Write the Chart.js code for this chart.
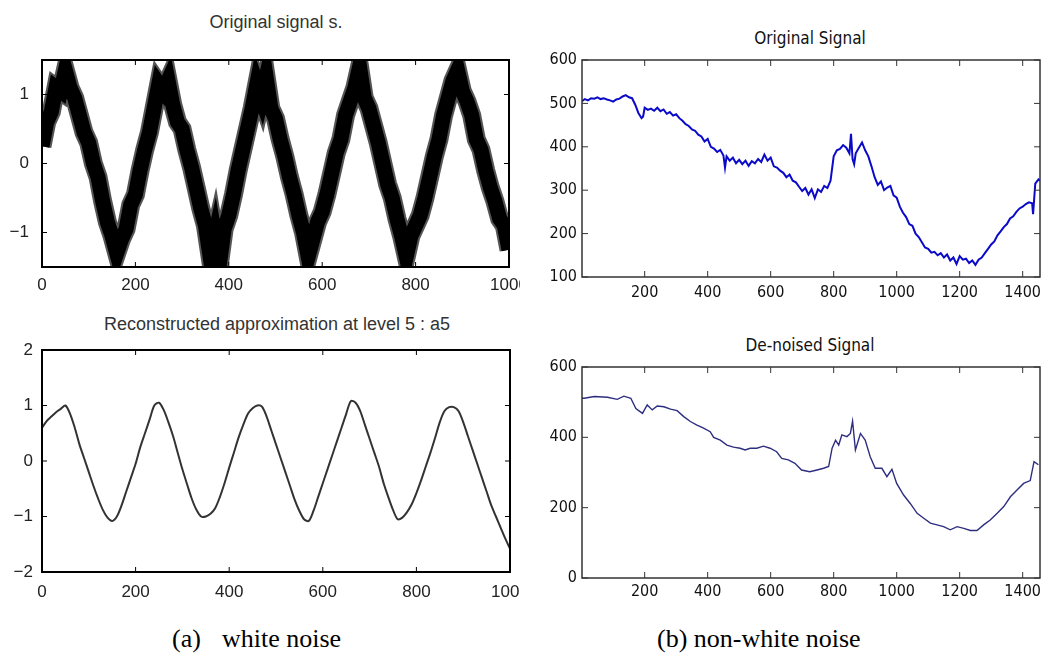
<html>
<head>
  <title>White noise vs non-white noise de-noising</title>
  <script src="https://cdn.jsdelivr.net/npm/chart.js"></script>
  <style>
    body { margin: 0; background: #fff; width: 1042px; height: 659px; position: relative; overflow: hidden; }
    .box { position: absolute; }
    .ttl { position: absolute; text-align: center; white-space: nowrap; }
    .left { font: 18px "Liberation Sans", Arial, sans-serif; color: #333; }
    .right { font: 17px "DejaVu Sans Condensed", "Liberation Sans Narrow", sans-serif; font-stretch: condensed; color: #111; }
    .cap { position: absolute; font: 26px "Liberation Serif", "Times New Roman", serif; color: #000; white-space: nowrap; }
  </style>
</head>
<body>
  <div class="ttl left" style="left:126px; top:12px; width:300px; line-height:20px;">Original signal s.</div>
  <div class="ttl left" style="left:77px; top:314px; width:400px; line-height:20px;">Reconstructed approximation at level 5 : a5</div>
  <div class="ttl right" style="left:710px; top:28px; width:200px; line-height:20px;">Original Signal</div>
  <div class="ttl right" style="left:710px; top:335px; width:200px; line-height:20px;">De-noised Signal</div>

  <div class="box" style="left:0; top:0;"><canvas id="noisyChart" width="520" height="300"></canvas></div>
  <div class="box" style="left:0; top:290px;"><canvas id="approxChart" width="520" height="310"></canvas></div>
  <div class="box" style="left:520px; top:0;"><canvas id="origChart" width="522" height="305"></canvas></div>
  <div class="box" style="left:520px; top:300px;"><canvas id="denoisedChart" width="522" height="305"></canvas></div>

  <div class="cap" style="left:172px; top:624px;">(a)</div>
  <div class="cap" style="left:222px; top:624px;">white noise</div>
  <div class="cap" style="left:657px; top:624px;">(b) non-white noise</div>

  <script>
    // ---- (a) white noise: samples every 10 points, 0..1000 ----
    const stepA = 10;
    const noisySignal = [0.25,0.6,0.75,1.1,1.05,1.35,1.1,0.95,0.7,0.45,
      0.3,0.0,-0.2,-0.55,-0.85,-1.05,-1.3,-1.1,-0.95,-0.6,
      -0.45,-0.1,0.2,0.45,0.8,1.15,1.05,1.2,0.85,0.6,
      0.5,0.2,-0.05,-0.35,-0.65,-0.9,-1.35,-1.05,-1.45,-0.95,
      -0.75,-0.45,-0.1,0.2,0.5,0.8,1.15,0.95,1.25,0.8,
      0.65,0.35,0.1,-0.2,-0.45,-0.75,-1.0,-1.35,-1.1,-0.85,
      -0.7,-0.45,-0.15,0.15,0.35,0.7,0.9,1.1,1.4,0.95,
      0.8,0.55,0.3,0.0,-0.3,-0.5,-0.8,-1.05,-1.35,-1.05,
      -0.9,-0.75,-0.5,-0.2,0.1,0.35,0.7,0.95,1.2,1.35,
      1.05,0.9,0.7,0.35,0.2,-0.1,-0.35,-0.55,-0.8,-0.9,
      -1.25];
    const approxA5 = [0.6,0.72,0.8,0.88,0.94,1.0,
      0.85,0.6,0.3,0.05,-0.2,-0.45,-0.68,-0.88,-1.02,-1.08,
      -1.0,-0.8,-0.55,-0.3,-0.05,0.25,0.5,0.75,1.0,1.05,
      0.92,0.7,0.45,0.15,-0.15,-0.42,-0.68,-0.88,-1.0,-1.0,
      -0.95,-0.85,-0.65,-0.4,-0.12,0.15,0.42,0.65,0.85,0.95,1.0,0.98,
      0.8,0.55,0.3,0.05,-0.2,-0.45,-0.7,-0.9,-1.05,-1.08,
      -0.9,-0.65,-0.4,-0.15,0.1,0.35,0.6,0.85,1.08,1.05,
      0.9,0.65,0.4,0.15,-0.1,-0.4,-0.65,-0.88,-1.05,-1.02,
      -0.92,-0.78,-0.58,-0.35,-0.1,0.15,0.42,0.7,0.9,0.97,0.97,
      0.9,0.7,0.45,0.2,-0.05,-0.3,-0.55,-0.8,-1.0,-1.2,-1.4,-1.58];
    const ticksAx = [0, 200, 400, 600, 800, 1000];
    const ticksNoisyY = [-1, 0, 1];
    const ticksApproxY = [-2, -1, 0, 1, 2];

    // ---- (b) non-white noise: [sample, value] ----
    const originalSignal = [[1,505],[10,510],[20,507],[30,512],[40,511],[50,514],[60,510],[70,512],[80,509],[90,507],
      [100,504],[110,509],[120,511],[130,516],[140,519],[150,514],[160,512],[170,497],[180,478],[190,466],
      [195,470],[200,490],[210,485],[220,488],[230,483],[240,490],[250,482],[260,486],[270,476],[280,480],
      [290,472],[300,475],[310,466],[320,460],[330,452],[340,448],[350,440],[360,437],[370,428],[380,424],
      [390,412],[400,418],[410,400],[420,396],[430,388],[440,393],[450,380],[455,352],[460,378],[470,368],
      [480,375],[490,362],[500,370],[510,360],[520,368],[530,356],[540,367],[550,362],[560,372],[570,365],
      [580,382],[590,368],[600,375],[610,355],[620,352],[630,345],[640,340],[650,330],[660,336],[670,322],
      [680,318],[690,308],[700,298],[710,305],[720,290],[730,302],[740,282],[750,302],[760,296],[770,310],
      [780,305],[790,322],[800,378],[810,392],[820,395],[830,404],[840,398],[850,385],[855,430],[860,372],
      [865,360],[870,385],[880,398],[890,410],[900,392],[910,378],[920,355],[930,330],[940,312],[950,320],
      [960,300],[970,306],[980,310],[990,288],[1000,283],[1010,262],[1020,248],[1030,238],[1040,222],[1050,218],
      [1060,200],[1070,192],[1080,180],[1090,168],[1100,165],[1110,156],[1120,158],[1130,150],[1140,155],[1150,145],
      [1160,152],[1170,138],[1180,145],[1190,130],[1200,148],[1210,140],[1220,142],[1230,132],[1240,138],[1250,128],
      [1260,140],[1270,145],[1280,155],[1290,165],[1300,175],[1310,182],[1320,196],[1330,205],[1340,215],[1350,222],
      [1360,235],[1370,240],[1380,250],[1390,258],[1400,262],[1410,268],[1420,272],[1430,270],[1433,245],[1440,315],
      [1450,325],[1455,322]];
    const denoisedSignal = [[1,511],[8,511],[40,516],[82,514],[113,508],[134,517],[156,511],[172,482],[193,468],[208,492],
      [224,478],[240,489],[261,487],[282,480],[303,476],[324,459],[345,445],[366,435],[387,426],[408,416],
      [419,400],[440,392],[461,378],[482,372],[503,369],[519,364],[535,369],[556,369],[577,375],[598,369],
      [619,359],[635,340],[656,336],[677,326],[698,307],[724,302],[747,307],[768,312],[784,317],[795,369],
      [806,392],[816,378],[826,407],[842,402],[853,411],[860,446],[869,364],[885,411],[900,392],[916,345],
      [932,312],[953,312],[969,288],[985,309],[1000,269],[1022,236],[1043,212],[1065,184],[1086,170],[1107,156],
      [1128,151],[1149,146],[1170,137],[1192,146],[1213,141],[1234,135],[1255,135],[1276,151],[1297,165],[1319,184],
      [1340,203],[1361,231],[1382,250],[1403,269],[1424,277],[1436,331],[1450,322]];
    const ticksBx = [200, 400, 600, 800, 1000, 1200, 1400];
    const ticksOrigY = [100, 200, 300, 400, 500, 600];
    const ticksDenoisedY = [0, 200, 400, 600];

    // box round the plot and matlab style ticks pointing inwards
    const frameTicks = {
      id: 'frameTicks',
      afterDatasetsDraw(chart, args, opts) {
        const { ctx, chartArea: a, scales: { x, y } } = chart;
        ctx.save();
        ctx.strokeStyle = opts.color;
        ctx.lineWidth = 1;
        ctx.beginPath();
        x.ticks.forEach(t => {
          const px = x.getPixelForValue(t.value);
          ctx.moveTo(px, a.bottom); ctx.lineTo(px, a.bottom - opts.len);
          ctx.moveTo(px, a.top); ctx.lineTo(px, a.top + opts.len);
        });
        y.ticks.forEach(t => {
          const py = y.getPixelForValue(t.value);
          ctx.moveTo(a.left, py); ctx.lineTo(a.left + opts.len, py);
          ctx.moveTo(a.right, py); ctx.lineTo(a.right - opts.len, py);
        });
        ctx.stroke();
        ctx.lineWidth = opts.width;
        ctx.strokeRect(a.left, a.top, a.right - a.left, a.bottom - a.top);
        ctx.restore();
      }
    };

    // plain numbers, no thousands separator, real minus sign
    const plain = v => (v < 0 ? '\u2212' + Math.abs(v) : String(v));

    function makeChart(id, datasets, s) {
      return new Chart(document.getElementById(id), {
        type: 'line',
        data: { datasets: datasets },
        plugins: [frameTicks],
        options: {
          responsive: false,
          animation: false,
          layout: { padding: { top: s.padTop, right: s.padRight, left: 0, bottom: 0 } },
          elements: { point: { radius: 0 } },
          plugins: {
            legend: { display: false },
            tooltip: { enabled: false },
            frameTicks: { color: s.frame, width: s.frameWidth, len: s.tickLen }
          },
          scales: {
            x: {
              type: 'linear', min: s.xMin, max: s.xMax,
              grid: { display: false, drawTicks: false },
              border: { display: false },
              afterBuildTicks: sc => { sc.ticks = s.xTicks.map(v => ({ value: v })); },
              afterFit: sc => { sc.height = s.xHeight; sc.paddingLeft = 0; sc.paddingRight = 0; },
              ticks: { font: s.font, color: s.tickColor, padding: s.xPad, maxRotation: 0, autoSkip: false, callback: plain }
            },
            y: {
              type: 'linear', min: s.yMin, max: s.yMax,
              grid: { display: false, drawTicks: false },
              border: { display: false },
              afterBuildTicks: sc => { sc.ticks = s.yTicks.map(v => ({ value: v })); },
              afterFit: sc => { sc.width = s.yWidth; sc.paddingTop = 0; sc.paddingBottom = 0; },
              ticks: { font: s.font, color: s.tickColor, padding: s.yPad, callback: plain }
            }
          }
        }
      });
    }

    const leftFont = { family: '"Liberation Sans", Arial, sans-serif', size: 17 };
    const rightFont = { family: '"DejaVu Sans Condensed", "Liberation Sans Narrow", sans-serif', size: 16 };

    // black core drawn over a slightly wider grey halo (first dataset is painted last)
    makeChart('noisyChart', [
      { data: noisySignal.map((v, i) => ({ x: i * stepA, y: v })), borderColor: '#000', borderWidth: 15, tension: 0, borderJoinStyle: 'miter' },
      { data: noisySignal.map((v, i) => ({ x: i * stepA, y: v })), borderColor: '#555', borderWidth: 19, tension: 0, borderJoinStyle: 'miter' }
    ], {
      padTop: 60, padRight: 11, xHeight: 33, yWidth: 42, xPad: 8, yPad: 13,
      xMin: 0, xMax: 1000, yMin: -1.5, yMax: 1.5, xTicks: ticksAx, yTicks: ticksNoisyY,
      font: leftFont, tickColor: '#222', frame: '#000', frameWidth: 2, tickLen: 5
    });

    makeChart('approxChart', [
      { data: approxA5.map((v, i) => ({ x: i * stepA, y: v })), borderColor: '#333', borderWidth: 2, tension: 0.3 }
    ], {
      padTop: 60, padRight: 10, xHeight: 28, yWidth: 42, xPad: 10, yPad: 9,
      xMin: 0, xMax: 1000, yMin: -2, yMax: 2, xTicks: ticksAx, yTicks: ticksApproxY,
      font: leftFont, tickColor: '#222', frame: '#000', frameWidth: 2, tickLen: 5
    });

    makeChart('origChart', [
      { data: originalSignal.map(([x, y]) => ({ x, y })), borderColor: '#0a0ac8', borderWidth: 2, tension: 0 }
    ], {
      padTop: 60, padRight: 2, xHeight: 28, yWidth: 62, xPad: 6, yPad: 5,
      xMin: 1, xMax: 1455, yMin: 100, yMax: 600, xTicks: ticksBx, yTicks: ticksOrigY,
      font: rightFont, tickColor: '#111', frame: '#333', frameWidth: 1.5, tickLen: 6
    });

    makeChart('denoisedChart', [
      { data: denoisedSignal.map(([x, y]) => ({ x, y })), borderColor: '#2e2e80', borderWidth: 1.4, tension: 0 }
    ], {
      padTop: 67, padRight: 2, xHeight: 27, yWidth: 62, xPad: 4, yPad: 5,
      xMin: 1, xMax: 1455, yMin: 0, yMax: 600, xTicks: ticksBx, yTicks: ticksDenoisedY,
      font: rightFont, tickColor: '#111', frame: '#333', frameWidth: 1.5, tickLen: 6
    });
  </script>
</body>
</html>
